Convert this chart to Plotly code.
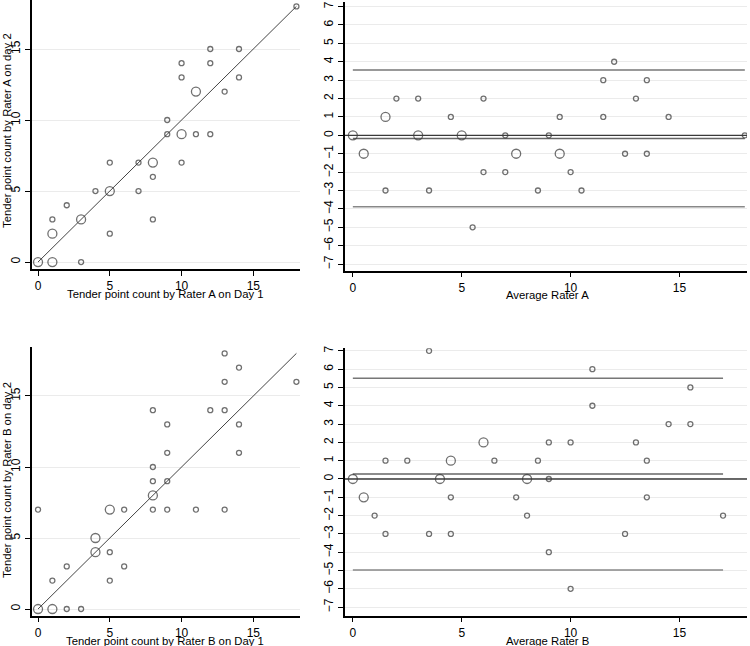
import plotly.graph_objects as go

# ---------------- Data ----------------
# Rater A: tender point count day 1 vs day 2 (mult = 2 -> larger symbol)
a_day1 = [0, 1, 3, 1, 1, 2, 3, 4, 5, 5, 5, 7, 7, 8, 8, 8, 10, 9, 9, 10, 10, 10, 12, 12, 14, 14, 11, 13, 11, 12, 18]
a_day2 = [0, 0, 0, 2, 3, 4, 3, 5, 5, 7, 2, 7, 5, 7, 6, 3, 7, 10, 9, 9, 13, 14, 15, 14, 15, 13, 12, 12, 9, 9, 18]
a_mult = [2, 2, 1, 2, 1, 1, 2, 1, 2, 1, 1, 1, 1, 2, 1, 1, 1, 1, 1, 2, 1, 1, 1, 1, 1, 1, 2, 1, 1, 1, 1]

# Rater A Bland-Altman: average vs difference
a_avg = [0, 0.5, 1.5, 1.5, 2, 3, 3, 3.5, 4.5, 5, 5.5, 6, 6, 7, 7, 7.5, 8.5, 9, 9.5, 9.5, 10, 10.5, 11.5, 11.5, 12, 12.5, 13, 13.5, 13.5, 14.5, 18]
a_diff = [0, -1, -3, 1, 2, 2, 0, -3, 1, 0, -5, 2, -2, 0, -2, -1, -3, 0, 1, -1, -2, -3, 3, 1, 4, -1, 2, 3, -1, 1, 0]
a_ba_mult = [2, 2, 1, 2, 1, 1, 2, 1, 1, 2, 1, 1, 1, 1, 1, 2, 1, 1, 1, 2, 1, 1, 1, 1, 1, 1, 1, 1, 1, 1, 1]
a_mean_diff = -0.17
a_loa = [3.55, -3.88]

# Rater B: tender point count day 1 vs day 2
b_day1 = [0, 1, 2, 3, 0, 1, 2, 4, 4, 5, 5, 5, 6, 6, 8, 8, 8, 9, 9, 8, 8, 9, 9, 13, 14, 13, 12, 13, 14, 14, 18, 11, 13]
b_day2 = [0, 0, 0, 0, 7, 2, 3, 5, 4, 7, 4, 2, 7, 3, 8, 9, 7, 9, 7, 14, 10, 13, 11, 18, 17, 16, 14, 14, 13, 11, 16, 7, 7]
b_mult = [2, 2, 1, 1, 1, 1, 1, 2, 2, 2, 1, 1, 1, 1, 2, 1, 1, 1, 1, 1, 1, 1, 1, 1, 1, 1, 1, 1, 1, 1, 1, 1, 1]

# Rater B Bland-Altman
b_avg = [0, 0.5, 1, 1.5, 3.5, 1.5, 2.5, 4.5, 4, 6, 4.5, 3.5, 6.5, 4.5, 8, 8.5, 7.5, 9, 8, 11, 9, 11, 10, 15.5, 15.5, 14.5, 13, 13.5, 13.5, 12.5, 17, 9, 10]
b_diff = [0, -1, -2, -3, 7, 1, 1, 1, 0, 2, -1, -3, 1, -3, 0, 1, -1, 0, -2, 6, 2, 4, 2, 5, 3, 3, 2, 1, -1, -3, -2, -4, -6]
b_ba_mult = [2, 2, 1, 1, 1, 1, 1, 2, 2, 2, 1, 1, 1, 1, 2, 1, 1, 1, 1, 1, 1, 1, 1, 1, 1, 1, 1, 1, 1, 1, 1, 1, 1]
b_mean_diff = 0.27
b_loa = [5.5, -4.97]

identity = [0, 18]
scatter_ticks = [0, 5, 10, 15]
ba_yticks = list(range(-7, 8))
ba_xticks = [0, 5, 10, 15]

titles = {
    "a_x": "Tender point count by Rater A on Day 1",
    "a_y": "Tender point count by Rater A on day 2",
    "b_x": "Tender point count by Rater B on Day 1",
    "b_y": "Tender point count by Rater B on day 2",
    "a_ba": "Average Rater A",
    "b_ba": "Average Rater B",
}

# ---------------- Figure ----------------
W, H = 750, 646
FONT = "Arial"
MK = "#333333"

def msize(m):
    return [5 if v == 1 else 9 for v in m]

fig = go.Figure()

def pts(x, y, m, xa, ya):
    fig.add_trace(go.Scatter(
        x=x, y=y, mode="markers", xaxis=xa, yaxis=ya, showlegend=False, hoverinfo="skip",
        marker=dict(symbol="circle-open", size=msize(m), color=MK, line=dict(width=1.3, color=MK)),
    ))

def line(x, y, xa, ya, color, width):
    fig.add_trace(go.Scatter(
        x=x, y=y, mode="lines", xaxis=xa, yaxis=ya, showlegend=False, hoverinfo="skip",
        line=dict(color=color, width=width),
    ))

# Panel 1: Rater A scatter
line(identity, identity, "x", "y", "#444444", 1)
pts(a_day1, a_day2, a_mult, "x", "y")
# Panel 2: Rater A Bland-Altman
ax_rng = [min(a_avg), max(a_avg)]
line(ax_rng, [a_mean_diff] * 2, "x2", "y2", "#666666", 1.6)
line(ax_rng, [a_loa[0]] * 2, "x2", "y2", "#777777", 1.6)
line(ax_rng, [a_loa[1]] * 2, "x2", "y2", "#888888", 1.6)
pts(a_avg, a_diff, a_ba_mult, "x2", "y2")
# Panel 3: Rater B scatter
line(identity, identity, "x3", "y3", "#444444", 1)
pts(b_day1, b_day2, b_mult, "x3", "y3")
# Panel 4: Rater B Bland-Altman
bx_rng = [min(b_avg), max(b_avg)]
line(bx_rng, [b_mean_diff] * 2, "x4", "y4", "#666666", 1.6)
line(bx_rng, [b_loa[0]] * 2, "x4", "y4", "#777777", 1.6)
line(bx_rng, [b_loa[1]] * 2, "x4", "y4", "#888888", 1.6)
pts(b_avg, b_diff, b_ba_mult, "x4", "y4")

# zero reference lines across the BA panels
for yr, xr in (("y2", "x2 domain"), ("y4", "x4 domain")):
    fig.add_shape(type="line", xref=xr, yref=yr, x0=0, x1=1, y0=0, y1=0,
                  line=dict(color="#3a3a3a", width=1.4), layer="above")

def px2dom_x(p):
    return p / W

def px2dom_y(p):
    return 1 - p / H

axis_common = dict(
    showline=True, linecolor="black", linewidth=1.5, ticks="outside", ticklen=5,
    tickcolor="black", tickwidth=1, zeroline=False, mirror=False, automargin=False,
    tickfont=dict(family=FONT, size=12, color="black"),
)
xaxis_extra = dict(showgrid=False)
yaxis_extra = dict(tickangle=-90, showgrid=True, gridcolor="#ebebeb", gridwidth=1)

left_dom = [px2dom_x(32), px2dom_x(300)]
right_dom = [px2dom_x(345), px2dom_x(747)]
top_dom_l = [px2dom_y(269), px2dom_y(0)]
top_dom_r = [px2dom_y(270.7), px2dom_y(2)]
bot_dom_l = [px2dom_y(615.7), px2dom_y(346.7)]
bot_dom_r = [px2dom_y(615.7), px2dom_y(348.3)]

fig.update_layout(
    width=W, height=H, margin=dict(l=0, r=0, t=0, b=0, autoexpand=False),
    paper_bgcolor="white", plot_bgcolor="white",
    font=dict(family=FONT, size=12, color="black"),
    xaxis=dict(domain=left_dom, anchor="y", range=[-0.42, 18.25], tickvals=scatter_ticks, **xaxis_extra, **axis_common),
    yaxis=dict(domain=top_dom_l, anchor="x", range=[-0.49, 18.45], tickvals=scatter_ticks, **yaxis_extra, **axis_common),
    xaxis2=dict(domain=right_dom, anchor="y2", range=[-0.36, 18.1], tickvals=ba_xticks, **xaxis_extra, **axis_common),
    yaxis2=dict(domain=top_dom_r, anchor="x2", range=[-7.36, 7.25], tickvals=ba_yticks, **yaxis_extra, **axis_common),
    xaxis3=dict(domain=left_dom, anchor="y3", range=[-0.42, 18.25], tickvals=scatter_ticks, **xaxis_extra, **axis_common),
    yaxis3=dict(domain=bot_dom_l, anchor="x3", range=[-0.47, 18.47], tickvals=scatter_ticks, **yaxis_extra, **axis_common),
    xaxis4=dict(domain=right_dom, anchor="y4", range=[-0.36, 18.1], tickvals=ba_xticks, **xaxis_extra, **axis_common),
    yaxis4=dict(domain=bot_dom_r, anchor="x4", range=[-7.47, 7.14], tickvals=ba_yticks, **yaxis_extra, **axis_common),
)

def ann(text, x, y, angle=0):
    fig.add_annotation(text=text, x=x / W, y=1 - y / H, xref="paper", yref="paper",
                       showarrow=False, textangle=angle, xanchor="center", yanchor="middle",
                       font=dict(family=FONT, size=11.3, color="black"))

ann(titles["a_x"], 165, 294.5)
ann(titles["a_y"], 7, 131, -90)
ann(titles["a_ba"], 547, 295)
ann(titles["b_x"], 165, 640.5)
ann(titles["b_y"], 7, 480, -90)
ann(titles["b_ba"], 547, 640.5)

# remove the default 8px page margin so the figure fills the window exactly
fig.write_html(
    "out.html",
    config={"displayModeBar": False},
    post_script="document.body.style.margin='0';document.body.style.overflow='hidden';",
)
